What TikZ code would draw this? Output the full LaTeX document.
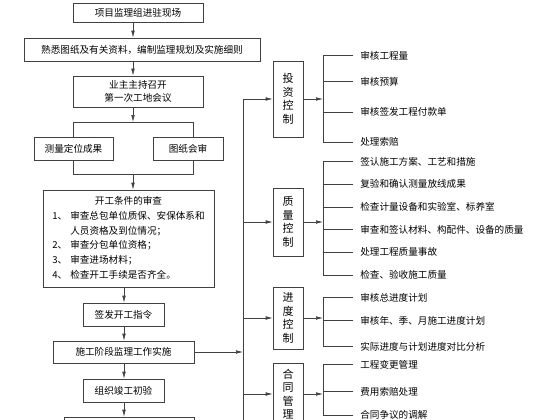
\documentclass[tikz,border=0pt]{standalone}
\usepackage{fontspec}
\setmainfont{Noto Sans CJK SC}
\usetikzlibrary{arrows.meta}

\begin{document}
\begin{tikzpicture}[x=1pt,y=-1pt,>={Latex[length=7pt,width=3.6pt]},
  color=black!75,text=black,line width=0.6pt,
  box/.style={draw,inner sep=0pt,align=center,font=\fontsize{9.6}{13}\selectfont},
  ctrl/.style={draw,inner sep=0pt,minimum width=30,align=center,font=\fontsize{11}{13.5}\selectfont},
  item/.style={anchor=west,inner sep=0pt,inner xsep=7pt,font=\fontsize{9.6}{12}\selectfont}]
\useasboundingbox (0,0) rectangle (560,420);

% left column
\node[box,minimum width=130,minimum height=19] (arrive) at (138,12.5) {项目监理组进驻现场};
\node[box,minimum width=236,minimum height=23] (plan) at (142,49.5) {熟悉图纸及有关资料，编制监理规划及实施细则};
\node[box,minimum width=130,minimum height=31] (meet) at (138,91.5) {业主主持召开\\第一次工地会议};
\node[box,minimum width=79,minimum height=23] (survey) at (73.5,148.5) {测量定位成果};
\node[box,minimum width=70,minimum height=23] (review) at (188,148.5) {图纸会审};
\node[box,minimum width=171,minimum height=97] (check) at (128.5,238.5) {\renewcommand{\arraystretch}{1.15}%
  \begin{tabular}{@{}p{18pt}@{}l@{}}
  \multicolumn{2}{c}{开工条件的审查}\\
  1、 & 审查总包单位质保、安保体系和\\
      & 人员资格及到位情况；\\
  2、 & 审查分包单位资格；\\
  3、 & 审查进场材料；\\
  4、 & 检查开工手续是否齐全。
  \end{tabular}};
\node[box,minimum width=81,minimum height=23] (order) at (123.5,314.5) {签发开工指令};
\node[box,minimum width=141,minimum height=22] (work) at (123.5,352) {施工阶段监理工作实施};
\node[box,minimum width=81,minimum height=23] (accept) at (123.5,390.5) {组织竣工初验};
\node[box,minimum width=130,minimum height=25] (final) at (129,429.5) {};

\coordinate (ax) at (133,0);
\coordinate (bx) at (124,0);
\coordinate (sp1) at (73,122);
\coordinate (sp2) at (193,122);
\coordinate (jn1) at (73,174);
\coordinate (jn2) at (193,174);
\coordinate (bustop) at (243,99);
\coordinate (busend) at (243,425);
\coordinate (sub) at (323,0);

\draw[->] (arrive.south -| ax) -- (plan.north -| ax);
\draw[->] (plan.south -| ax) -- (meet.north -| ax);
\draw[->] (meet.south -| ax) -- (sp1 -| ax);
\draw (survey.north -| sp1) -- (sp1) -- (sp2) -- (review.north -| sp2);
\draw (survey.south -| jn1) -- (jn1) -- (jn2) -- (review.south -| jn2);
\draw[->] (jn1 -| ax) -- (check.north -| ax);
\draw[->] (check.south -| bx) -- (order.north -| bx);
\draw[->] (order.south -| bx) -- (work.north -| bx);
\draw[->] (work.south -| bx) -- (accept.north -| bx);
\draw[->] (accept.south -| bx) -- (final.north -| bx);
\draw[->] (work.east) -- (work.east -| bustop);
\draw (bustop) -- (busend);

% control boxes
\node[ctrl,minimum height=76] (inv) at (288,99) {投\\资\\控\\制};
\node[ctrl,minimum height=68] (qua) at (288,222) {质\\量\\控\\制};
\node[ctrl,minimum height=62] (sch) at (288,318) {进\\度\\控\\制};
\node[ctrl,minimum height=62] (con) at (288,394) {合\\同\\管\\理};

\draw[->] (inv.west -| bustop) -- (inv.west);
\draw[->] (qua.west -| bustop) -- (qua.west);
\draw[->] (sch.west -| bustop) -- (sch.west);
\draw[->] (con.west -| bustop) -- (con.west);
\draw[->] (inv.east) -- (inv.east -| sub);
\draw[->] (qua.east) -- (qua.east -| sub);
\draw[->] (sch.east) -- (sch.east -| sub);
\draw[->] (con.east) -- (con.east -| sub);

% investment items
\node[item] (inv1) at (353,55.5) {审核工程量};
\node[item] (inv2) at (353,81.5) {审核预算};
\node[item] (inv3) at (353,112) {审核签发工程付款单};
\node[item] (inv4) at (353,142) {处理索赔};
\draw (sub |- inv1.west) -- (sub |- inv4.west);
\draw (sub |- inv1.west) -- (inv1.west);
\draw (sub |- inv2.west) -- (inv2.west);
\draw (sub |- inv3.west) -- (inv3.west);
\draw (sub |- inv4.west) -- (inv4.west);

% quality items
\node[item] (qua1) at (353,161.5) {签认施工方案、工艺和措施};
\node[item] (qua2) at (353,184) {复验和确认测量放线成果};
\node[item] (qua3) at (353,207) {检查计量设备和实验室、标养室};
\node[item] (qua4) at (353,229.5) {审查和签认材料、构配件、设备的质量};
\node[item] (qua5) at (353,252) {处理工程质量事故};
\node[item] (qua6) at (353,275) {检查、验收施工质量};
\draw (sub |- qua1.west) -- (sub |- qua6.west);
\draw (sub |- qua1.west) -- (qua1.west);
\draw (sub |- qua2.west) -- (qua2.west);
\draw (sub |- qua3.west) -- (qua3.west);
\draw (sub |- qua4.west) -- (qua4.west);
\draw (sub |- qua5.west) -- (qua5.west);
\draw (sub |- qua6.west) -- (qua6.west);

% schedule items
\node[item] (sch1) at (353,297.5) {审核总进度计划};
\node[item] (sch2) at (353,320.5) {审核年、季、月施工进度计划};
\node[item] (sch3) at (353,346.5) {实际进度与计划进度对比分析};
\draw (sub |- sch1.west) -- (sub |- sch3.west);
\draw (sub |- sch1.west) -- (sch1.west);
\draw (sub |- sch2.west) -- (sch2.west);
\draw (sub |- sch3.west) -- (sch3.west);

% contract items
\node[item] (con1) at (353,364.5) {工程变更管理};
\node[item] (con2) at (353,391.5) {费用索赔处理};
\node[item] (con3) at (353,415) {合同争议的调解};
\draw (sub |- con1.west) -- (sub |- con3.west);
\draw (sub |- con1.west) -- (con1.west);
\draw (sub |- con2.west) -- (con2.west);
\draw (sub |- con3.west) -- (con3.west);
\end{tikzpicture}
\end{document}
